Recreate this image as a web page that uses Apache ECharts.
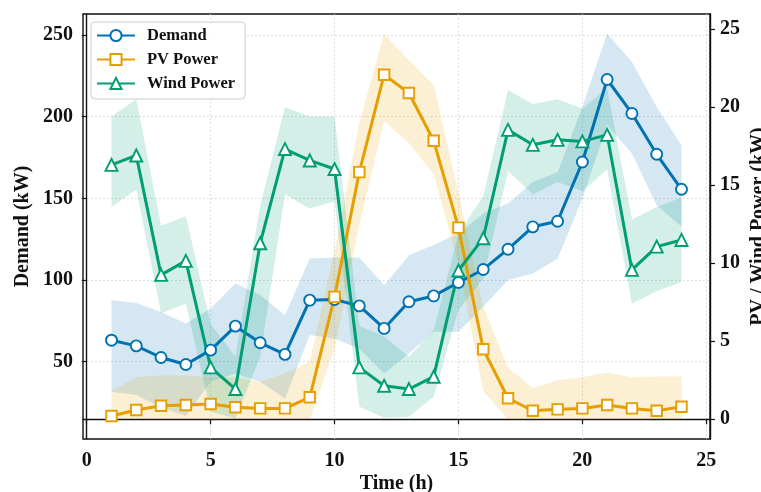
<!DOCTYPE html>
<html>
<head>
<meta charset="utf-8">
<script src="https://cdn.jsdelivr.net/npm/echarts@6/dist/echarts.min.js"></script>
<style>
  html, body { margin: 0; padding: 0; background: #fff; }
  #chart { width: 761px; height: 492px; }
</style>
</head>
<body>
<div id="chart"></div>
<script>
// Hourly profile (h)
const hours = [1,2,3,4,5,6,7,8,9,10,11,12,13,14,15,16,17,18,19,20,21,22,23,24];

// Demand (kW) with its uncertainty band
const demand     = [63.2, 59.7, 52.6, 48.3, 57.1, 71.8, 61.6, 54.5, 87.7, 88.1, 84.2, 70.4, 86.7, 90.3, 98.5, 106.5, 118.9, 132.6, 136.0, 172.3, 222.8, 202.0, 177.0, 155.6];
const demandLow  = [31.6, 29.6, 22.0, 17.0, 37.7, 42.8, 37.7, 27.5, 66.3, 64.3, 58.0, 42.8, 55.1, 68.3, 68.3, 83.6, 100.0, 104.0, 113.0, 150.0, 195.0, 177.5, 145.8, 132.6];
const demandHigh = [87.7, 86.0, 80.5, 73.4, 82.6, 97.9, 90.8, 78.5, 113.2, 113.8, 113.8, 96.9, 115.2, 121.4, 128.5, 140.8, 146.9, 160.0, 166.0, 206.0, 250.9, 233.5, 206.0, 182.6];

// PV output (kW) with its band
const pv     = [0.21, 0.6, 0.87, 0.92, 0.98, 0.77, 0.7, 0.7, 1.41, 7.84, 15.83, 22.07, 20.9, 17.84, 12.28, 4.49, 1.35, 0.55, 0.64, 0.7, 0.92, 0.7, 0.55, 0.81];
const pvLow  = [0, 0, 0, 0, 0, 0, 0, 0, 0, 4.5, 12.5, 19.1, 17.7, 15.7, 10.0, 1.8, 0, 0, 0, 0, 0, 0, 0, 0];
const pvHigh = [1.8, 2.7, 2.8, 2.8, 2.7, 2.7, 2.4, 2.95, 3.7, 10.8, 19.0, 24.7, 23.0, 21.4, 14.5, 7.2, 3.3, 2.0, 2.5, 2.7, 3.0, 2.7, 2.75, 2.75];

// Wind output (kW) with its band
const wind     = [16.3, 16.9, 9.25, 10.15, 3.33, 1.94, 11.28, 17.31, 16.58, 16.03, 3.33, 2.15, 1.94, 2.73, 9.53, 11.6, 18.54, 17.58, 17.9, 17.8, 18.22, 9.57, 11.06, 11.49];
const windLow  = [13.6, 14.7, 6.8, 7.4, 0.5, 0.06, 4.0, 14.4, 13.5, 13.95, 0.8, 0.1, 0.17, 1.45, 7.0, 9.0, 15.9, 14.4, 15.2, 14.6, 16.0, 7.4, 8.2, 8.8];
const windHigh = [19.4, 20.5, 12.4, 13.0, 6.1, 4.0, 13.7, 20.0, 19.4, 19.4, 6.0, 5.3, 4.0, 5.7, 11.9, 14.3, 21.1, 20.2, 20.5, 19.9, 21.2, 12.8, 13.6, 14.2];

// Tick labels
const xTicks      = [0, 5, 10, 15, 20, 25];
const demandTicks = [50, 100, 150, 200, 250];
const powerTicks  = [0, 5, 10, 15, 20, 25];

const C_DEMAND = '#0072B2';
const C_PV = '#E69F00';
const C_WIND = '#009E73';
const FONT = '"Liberation Serif", "Times New Roman", serif';

const pairs = vals => hours.map((h, i) => [h, vals[i]]);

// Shaded band between lo and hi, drawn as one polygon through the axis scales
function band(id, lo, hi, color, axis) {
  return {
    name: id, type: 'custom', yAxisIndex: axis, silent: true, animation: false,
    data: hours.map((h, i) => [h, lo[i], hi[i]]),
    encode: { x: 0, y: [1, 2] },
    clip: true,
    renderItem: function (params, api) {
      if (params.dataIndex !== 0) return null;
      const top = hours.map((h, i) => api.coord([h, hi[i]]));
      const bottom = hours.map((h, i) => api.coord([h, lo[i]])).reverse();
      return {
        type: 'polygon',
        shape: { points: top.concat(bottom) },
        style: { fill: color, stroke: null }
      };
    }
  };
}

function curve(name, vals, color, symbol, size, axis) {
  return {
    name: name, type: 'line', yAxisIndex: axis, data: pairs(vals),
    symbol: symbol, symbolSize: size, showAllSymbol: true,
    lineStyle: { color: color, width: 3 },
    itemStyle: { color: '#fff', borderColor: color, borderWidth: 1.9 },
    emphasis: { disabled: true }, animation: false
  };
}

const axisLabelStyle = { fontFamily: FONT, fontWeight: 'bold', fontSize: 20, color: '#111' };
const nameStyle = { fontFamily: FONT, fontWeight: 'bold', fontSize: 20, color: '#111' };
const tickStyle = { show: true, inside: false, length: 5, lineStyle: { color: '#111', width: 1.2 } };

const chart = echarts.init(document.getElementById('chart'), null, { renderer: 'canvas' });
chart.setOption({
  backgroundColor: '#fff',
  animation: false,
  grid: {
    left: 83, right: 51, top: 14, bottom: 53,
    show: true, borderColor: '#111', borderWidth: 1.4, backgroundColor: 'transparent',
    containLabel: false, outerBoundsMode: 'none'
  },
  legend: {
    data: ['Demand', 'PV Power', 'Wind Power'],
    orient: 'vertical', left: 91, top: 22,
    itemWidth: 38, itemHeight: 14, itemGap: 7,
    padding: [5, 10, 7, 5],
    backgroundColor: 'rgba(255,255,255,0.85)',
    borderColor: '#cccccc', borderWidth: 1, borderRadius: 4,
    textStyle: { fontFamily: FONT, fontWeight: 'bold', fontSize: 16.5, color: '#111', padding: [0, 0, 0, 7] },
    selectedMode: false
  },
  xAxis: {
    type: 'value', min: -0.15, max: 25.15,
    name: 'Time (h)', nameLocation: 'middle', nameGap: 35, nameMoveOverlap: false, nameTextStyle: nameStyle,
    axisLine: { show: true, lineStyle: { color: '#111', width: 1.4 } },
    axisTick: Object.assign({ customValues: xTicks }, tickStyle),
    axisLabel: Object.assign({ customValues: xTicks, margin: 12 }, axisLabelStyle),
    splitLine: { show: true, lineStyle: { color: '#cfcfcf', type: [1.5, 2.5], width: 0.9 } }
  },
  yAxis: [
    {
      type: 'value', position: 'left', min: 2.7, max: 262.9,
      name: 'Demand (kW)', nameLocation: 'middle', nameGap: 50, nameRotate: 90, nameMoveOverlap: false, nameTextStyle: nameStyle,
      axisLine: { show: true, lineStyle: { color: '#111', width: 1.4 } },
      axisTick: Object.assign({ customValues: demandTicks }, tickStyle),
      axisLabel: Object.assign({ customValues: demandTicks, margin: 10 }, axisLabelStyle),
      splitLine: { show: true, lineStyle: { color: '#cfcfcf', type: [1.5, 2.5], width: 0.9 } }
    },
    {
      type: 'value', position: 'right', min: -1.26, max: 25.96,
      name: 'PV / Wind Power (kW)', nameLocation: 'middle', nameGap: 39, nameRotate: 90, nameMoveOverlap: false, nameTextStyle: nameStyle,
      axisLine: { show: true, lineStyle: { color: '#111', width: 1.4 } },
      axisTick: Object.assign({ customValues: powerTicks }, tickStyle),
      axisLabel: Object.assign({ customValues: powerTicks, margin: 10 }, axisLabelStyle),
      splitLine: { show: false }
    }
  ],
  series: [
    band('demandBand', demandLow, demandHigh, 'rgba(0,114,178,0.17)', 0),
    curve('Demand', demand, C_DEMAND, 'circle', 11, 0),
    band('pvBand', pvLow, pvHigh, 'rgba(230,159,0,0.17)', 1),
    curve('PV Power', pv, C_PV, 'rect', 10.5, 1),
    band('windBand', windLow, windHigh, 'rgba(0,158,115,0.17)', 1),
    curve('Wind Power', wind, C_WIND, 'triangle', 12, 1)
  ]
});
</script>
</body>
</html>
